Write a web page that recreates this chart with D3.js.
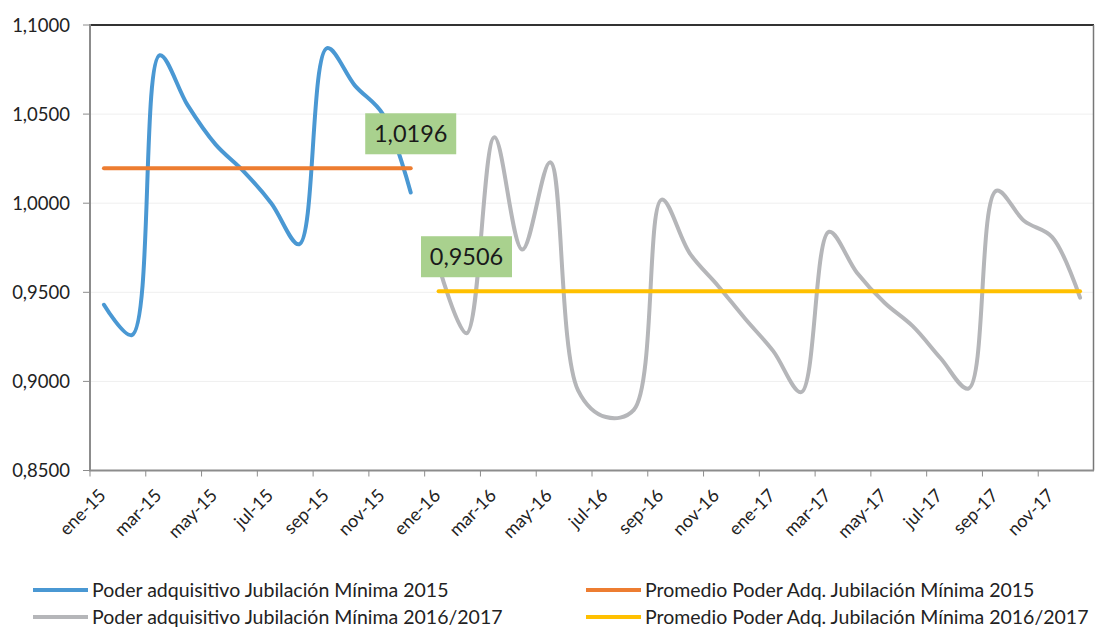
<!DOCTYPE html>
<html>
<head>
<meta charset="utf-8">
<script src="https://cdn.jsdelivr.net/npm/d3@7"></script>
<style>
  body { margin: 0; background: #fff; }
  svg { font-family: Lato, "Open Sans", sans-serif; }
</style>
</head>
<body>
<div id="chart"></div>
<script>
/* DATA */
const meses = [
  "ene-15", "feb-15", "mar-15", "abr-15", "may-15", "jun-15", "jul-15", "ago-15", "sep-15", "oct-15", "nov-15", "dic-15",
  "ene-16", "feb-16", "mar-16", "abr-16", "may-16", "jun-16", "jul-16", "ago-16", "sep-16", "oct-16", "nov-16", "dic-16",
  "ene-17", "feb-17", "mar-17", "abr-17", "may-17", "jun-17", "jul-17", "ago-17", "sep-17", "oct-17", "nov-17", "dic-17"
];
const meses2015 = meses.slice(0, 12);
const meses1617 = meses.slice(12);

const poder2015 = [0.943, 0.926, 1.083, 1.055, 1.033, 1.018, 1.000, 0.977, 1.087, 1.066, 1.050, 1.006];
const poder1617 = [0.965, 0.927, 1.037, 0.974, 1.023, 0.895, 0.880, 0.884, 1.002, 0.972, 0.954, 0.935,
                   0.917, 0.894, 0.984, 0.961, 0.944, 0.931, 0.913, 0.896, 1.007, 0.990, 0.981, 0.947];
const promedio2015 = 1.0196;
const promedio1617 = 0.9506;

const yTicks = [0.85, 0.90, 0.95, 1.00, 1.05, 1.10];

const leyenda = [
  { name: "Poder adquisitivo Jubilación Mínima 2015", color: "#4a98d3", col: 0, row: 0 },
  { name: "Promedio Poder Adq. Jubilación Mínima 2015", color: "#ed7d31", col: 1, row: 0 },
  { name: "Poder adquisitivo Jubilación Mínima 2016/2017", color: "#b5b6b9", col: 0, row: 1 },
  { name: "Promedio Poder Adq. Jubilación Mínima 2016/2017", color: "#ffc000", col: 1, row: 1 }
];

/* LAYOUT */
const width = 1095, height = 630;
const margin = { top: 25, right: 1, bottom: 159.5, left: 90 };
const fmt = d => d.toFixed(4).replace(".", ",");

const svg = d3.select("#chart").append("svg")
  .attr("width", width)
  .attr("height", height);

const xScale = d3.scaleBand()
  .domain(meses)
  .range([margin.left, width - margin.right]);

const yScale = d3.scaleLinear()
  .domain([0.85, 1.10])
  .range([height - margin.bottom, margin.top]);

const cx = m => xScale(m) + xScale.bandwidth() / 2;
const x0 = margin.left, x1 = width - margin.right;
const yBase = yScale(0.85), yTop = yScale(1.10);

// gridlines
svg.append("g")
  .selectAll("line")
  .data(yTicks.filter(d => d > 0.85 && d < 1.10))
  .join("line")
  .attr("x1", x0).attr("x2", x1)
  .attr("y1", d => yScale(d)).attr("y2", d => yScale(d))
  .attr("stroke", "#efefef")
  .attr("stroke-width", 1);

// plot frame: top dark, right gray
svg.append("line")
  .attr("x1", x0).attr("x2", x1).attr("y1", yTop).attr("y2", yTop)
  .attr("stroke", "#333").attr("stroke-width", 2);
svg.append("line")
  .attr("x1", x1 - 0.5).attr("x2", x1 - 0.5).attr("y1", yTop).attr("y2", yBase)
  .attr("stroke", "#777").attr("stroke-width", 1.5);

// y axis
const yAxis = svg.append("g").attr("class", "y-axis");
yAxis.append("line")
  .attr("x1", x0).attr("x2", x0).attr("y1", yTop - 1).attr("y2", yBase)
  .attr("stroke", "#8c8c8c").attr("stroke-width", 2);
yAxis.selectAll("line.tick")
  .data(yTicks)
  .join("line")
  .attr("class", "tick")
  .attr("x1", x0 - 7).attr("x2", x0)
  .attr("y1", d => yScale(d)).attr("y2", d => yScale(d))
  .attr("stroke", "#8c8c8c").attr("stroke-width", 1);
yAxis.selectAll("text")
  .data(yTicks)
  .join("text")
  .attr("x", 70)
  .attr("y", d => yScale(d))
  .attr("dy", "0.36em")
  .attr("text-anchor", "end")
  .attr("font-size", 18.5)
  .attr("fill", "#222")
  .text(fmt);

// x axis
const xAxis = svg.append("g").attr("class", "x-axis");
xAxis.append("line")
  .attr("x1", x0 - 1).attr("x2", x1).attr("y1", yBase).attr("y2", yBase)
  .attr("stroke", "#8c8c8c").attr("stroke-width", 2);
const tickMeses = meses.filter((d, i) => i % 2 === 0);
xAxis.selectAll("line.tick")
  .data(tickMeses)
  .join("line")
  .attr("class", "tick")
  .attr("x1", d => xScale(d)).attr("x2", d => xScale(d))
  .attr("y1", yBase).attr("y2", yBase + 6)
  .attr("stroke", "#8c8c8c").attr("stroke-width", 1);
xAxis.selectAll("text")
  .data(tickMeses)
  .join("text")
  .attr("transform", d => `translate(${cx(d) + 3},${yBase + 26}) rotate(-45)`)
  .attr("text-anchor", "end")
  .attr("font-size", 18)
  .attr("fill", "#222")
  .text(d => d);

// series lines
const line = d3.line()
  .x(d => cx(d.mes))
  .y(d => yScale(d.valor))
  .curve(d3.curveCatmullRom.alpha(0.5));

const serie2015 = meses2015.map((m, i) => ({ mes: m, valor: poder2015[i] }));
const serie1617 = meses1617.map((m, i) => ({ mes: m, valor: poder1617[i] }));

svg.append("path")
  .datum(serie1617)
  .attr("d", line)
  .attr("fill", "none")
  .attr("stroke", "#b5b6b9")
  .attr("stroke-width", 4)
  .attr("stroke-linecap", "round");

svg.append("path")
  .datum(serie2015)
  .attr("d", line)
  .attr("fill", "none")
  .attr("stroke", "#4a98d3")
  .attr("stroke-width", 4)
  .attr("stroke-linecap", "round");

// average lines
const promedios = [
  { meses: meses2015, valor: promedio2015, color: "#ed7d31", etiqueta: meses2015[11] },
  { meses: meses1617, valor: promedio1617, color: "#ffc000", etiqueta: meses1617[1] }
];

svg.append("g")
  .selectAll("line")
  .data(promedios)
  .join("line")
  .attr("x1", d => cx(d.meses[0]))
  .attr("x2", d => cx(d.meses[d.meses.length - 1]))
  .attr("y1", d => yScale(d.valor))
  .attr("y2", d => yScale(d.valor))
  .attr("stroke", d => d.color)
  .attr("stroke-width", 4)
  .attr("stroke-linecap", "round");

// data labels for averages
const etiquetas = svg.append("g")
  .selectAll("g")
  .data(promedios)
  .join("g")
  .attr("transform", d => `translate(${cx(d.etiqueta)},${yScale(d.valor) - 14})`);

etiquetas.append("rect")
  .attr("x", -45.5).attr("y", -41)
  .attr("width", 91).attr("height", 41)
  .attr("fill", "#a9d18e");

etiquetas.append("text")
  .attr("x", 0).attr("y", -20.5)
  .attr("dy", "0.36em")
  .attr("text-anchor", "middle")
  .attr("font-size", 23.5)
  .attr("fill", "#1a1a1a")
  .text(d => fmt(d.valor));

// legend
const leg = svg.append("g")
  .selectAll("g")
  .data(leyenda)
  .join("g")
  .attr("transform", d => `translate(${d.col === 0 ? 33 : 586},${d.row === 0 ? 590 : 617})`);

leg.append("line")
  .attr("x1", 0).attr("x2", 55)
  .attr("stroke", d => d.color)
  .attr("stroke-width", 4);

leg.append("text")
  .attr("x", 59)
  .attr("dy", "0.36em")
  .attr("font-size", 19.5)
  .attr("fill", "#222")
  .text(d => d.name);
</script>
</body>
</html>
